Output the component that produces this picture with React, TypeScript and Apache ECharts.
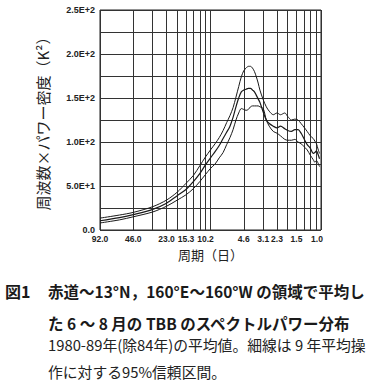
import React, { useEffect, useRef } from 'react';
import * as echarts from 'echarts';

// wavenumber k (cycles per 92-day record); period = 92 / k days
const recordLength = 92;
const wavenumbers = [1, 1.5, 2, 3, 4, 5, 6, 7, 8, 9, 10, 11, 12, 13, 14, 15, 16, 17, 18, 19, 20, 21, 22, 23, 24, 25, 26, 27, 28, 30, 32, 34, 37, 40, 43, 47, 50, 54, 58, 62, 66, 70, 75, 80, 85, 88, 91, 94, 97];
const meanPower = [10.5, 14, 17.5, 23.5, 30.5, 39, 46, 55, 64, 74, 82, 89, 96, 104, 111, 118, 128, 140, 150, 157, 159, 160, 161, 161, 159, 157, 153, 149, 145, 134, 125, 121, 118, 116, 118, 115, 113, 112, 114, 114, 110, 104, 97, 93, 87, 88, 90, 86, 81];
const upperBound = [13.5, 17, 20, 26.5, 34, 43, 53, 62, 73, 83, 91, 98, 105, 113, 122, 130, 139, 151, 163, 174, 181, 184, 186, 186, 184, 180, 174, 167, 159, 148, 140, 135, 131, 133, 131, 133, 129, 125, 126, 125, 121, 117, 112, 107, 104, 101, 98, 92, 87];
const lowerBound = [8, 11.5, 15, 20.5, 27, 34, 40, 47, 55, 63, 70, 75, 82, 88, 97, 105, 114, 125, 133, 138, 137, 136, 137, 140, 141, 141, 141, 141, 140, 138, 125, 118, 112, 110, 107, 103, 102, 102, 103, 100, 98, 95, 91, 85, 80, 77, 79, 76, 72];

const periodLabelWavenumbers = [1, 2, 4, 6, 9, 20, 30, 40, 60, 92];
const gridWavenumbers = [1, 2, 3, 4, 5, 6, 7, 8, 9, 10, 20, 30, 40, 50, 60, 70, 80, 90, 100];

const yTitle = '周波数×パワー密度（K²）';
const xTitle = '周期（日）';
const captionFig = '図1';
const captionLine1 = '赤道～13°N，160°E～160°W の領域で平均し';
const captionLine2 = 'た 6 ～ 8 月の TBB のスペクトルパワー分布';
const captionLine3 = '1980-89年(除84年)の平均値。細線は 9 年平均操';
const captionLine4 = '作に対する95%信頼区間。';

const pairs = (vals: number[]) => wavenumbers.map((k, i) => [k, vals[i]]);

function fmtY(v: number): string {
  if (v === 0) return '0.0';
  if (v % 50 !== 0) return '';
  const e = Math.floor(Math.log10(v) + 1e-9);
  const m = v / Math.pow(10, e);
  return `${m.toFixed(1)}E+${e}`;
}

export default function App() {
  const ref = useRef<HTMLDivElement>(null);
  useEffect(() => {
    document.body.style.margin = '0';
    if (!ref.current) return;
    const chart = echarts.init(ref.current, null, { renderer: 'svg' });
    const lineColor = '#1a1a1a';
    const gridColor = '#333';
    const jp = '"Noto Sans CJK JP", sans-serif';
    chart.setOption({
      animation: false,
      backgroundColor: '#ffffff',
      grid: {
        left: 100,
        right: 49,
        top: 10,
        bottom: 151,
        show: true,
        borderColor: '#222',
        borderWidth: 1,
        containLabel: false,
      },
      xAxis: {
        type: 'log',
        logBase: 10,
        min: 1,
        max: 100,
        name: xTitle,
        nameLocation: 'middle',
        nameGap: 13,
        nameTextStyle: { fontFamily: jp, fontSize: 13, color: '#222' },
        axisLine: { show: false },
        axisTick: { show: false, customValues: gridWavenumbers },
        splitLine: { show: true, lineStyle: { color: gridColor, width: 1 } },
        axisLabel: {
          customValues: periodLabelWavenumbers,
          hideOverlap: false,
          margin: 4,
          fontFamily: '"Liberation Sans", Arial, sans-serif',
          fontWeight: 'bold',
          fontSize: 8.5,
          color: '#222',
          formatter: (v: number) => (recordLength / v).toFixed(1),
        },
      },
      yAxis: {
        type: 'value',
        min: 0,
        max: 250,
        interval: 25,
        name: yTitle,
        nameLocation: 'middle',
        nameRotate: 90,
        nameGap: 50,
        nameTextStyle: { fontFamily: jp, fontSize: 15, color: '#222' },
        axisLine: { show: false },
        axisTick: { show: false },
        splitLine: { show: true, lineStyle: { color: gridColor, width: 1 } },
        axisLabel: {
          margin: 5,
          fontFamily: '"Liberation Sans", Arial, sans-serif',
          fontWeight: 'bold',
          fontSize: 9,
          color: '#222',
          formatter: fmtY,
        },
      },
      series: [
        { type: 'line', data: pairs(upperBound), showSymbol: false, smooth: 0.3, lineStyle: { color: lineColor, width: 1 } },
        { type: 'line', data: pairs(meanPower), showSymbol: false, smooth: 0.3, lineStyle: { color: lineColor, width: 1.2 } },
        { type: 'line', data: pairs(lowerBound), showSymbol: false, smooth: 0.3, lineStyle: { color: lineColor, width: 1 } },
      ],
      graphic: [
        { type: 'text', left: 5, top: 283, style: { text: captionFig, font: `bold 16px ${jp}`, fill: '#1a1a1a' } },
        { type: 'text', left: 48, top: 283, style: { text: captionLine1, font: `bold 15.5px ${jp}`, fill: '#1a1a1a' } },
        { type: 'text', left: 48, top: 315, style: { text: captionLine2, font: `bold 15.5px ${jp}`, fill: '#1a1a1a' } },
        { type: 'text', left: 48, top: 337, style: { text: captionLine3, font: `14.8px ${jp}`, fill: '#222' } },
        { type: 'text', left: 48, top: 364, style: { text: captionLine4, font: `14.8px ${jp}`, fill: '#222' } },
      ],
    });
    return () => chart.dispose();
  }, []);
  return <div ref={ref} style={{ width: 370, height: 381 }} />;
}
